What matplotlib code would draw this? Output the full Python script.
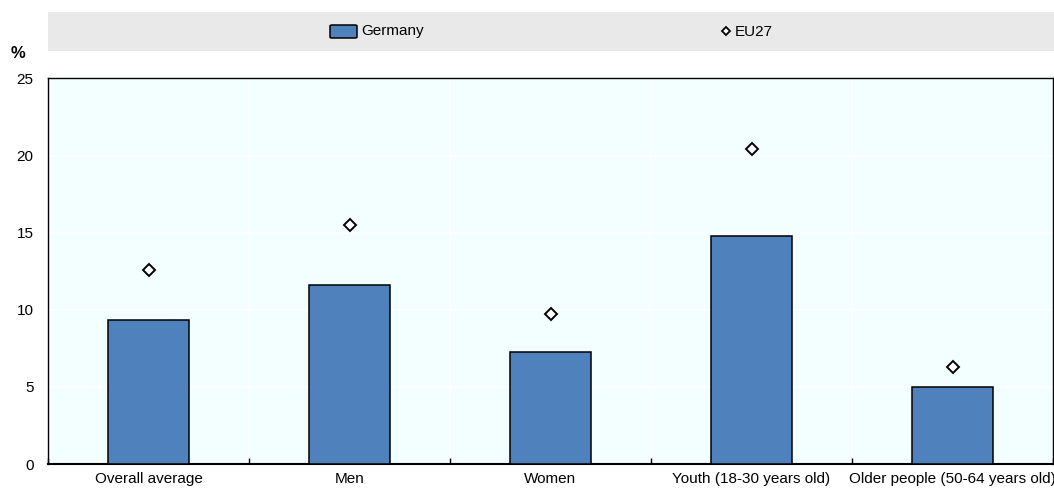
import matplotlib
matplotlib.use("Agg")
import matplotlib.pyplot as plt
from matplotlib.patches import Rectangle, FancyBboxPatch
from matplotlib.lines import Line2D
import numpy as np

categories = ["Overall average", "Men", "Women", "Youth (18-30 years old)", "Older people (50-64 years old)"]
germany = [9.35, 11.6, 7.25, 14.8, 5.0]
eu27 = [12.6, 15.5, 9.75, 20.45, 6.3]
yticks = [0, 5, 10, 15, 20, 25]

plt.rcParams['font.family'] = ['Liberation Sans Narrow', 'Liberation Sans', 'DejaVu Sans']

W, H = 1054, 490
fig = plt.figure(figsize=(W / 100, H / 100), dpi=100)
ax = fig.add_axes([48 / W, 26 / H, (1053 - 48) / W, (464 - 78.5) / H])
ax.set_facecolor('#F2FEFF')

x = np.arange(len(categories))
ax.bar(x, germany, width=0.4, color='#4F81BD', edgecolor='black', linewidth=1.1, zorder=3)
ax.plot(x, eu27, linestyle='none', marker='D', markersize=6, markerfacecolor='white',
        markeredgecolor='black', markeredgewidth=1.4, zorder=4)

ax.set_xlim(-0.5, len(categories) - 0.5)
ax.set_ylim(0, 25)
ax.set_yticks(yticks)
ax.set_yticklabels([str(v) for v in yticks], fontsize=11)
ax.set_xticks(x)
ax.set_xticklabels(categories, fontsize=11)
ax.tick_params(axis='y', length=0, pad=10.5)
ax.tick_params(axis='x', length=0, pad=6)
ax.set_xticks(np.arange(-0.5, len(categories), 1.0), minor=True)
ax.tick_params(axis='x', which='minor', direction='in', length=4, width=1, color='black')
ax.grid(axis='y', color='white', linewidth=1.2, zorder=1)
for b in np.arange(0.5, len(categories) - 0.5, 1.0):
    ax.axvline(b, color='white', linewidth=1.2, zorder=1)
for s in ax.spines.values():
    s.set_color('black')
    s.set_linewidth(1.0)
ax.spines['bottom'].set_linewidth(1.5)

# legend band
fig.patches.append(Rectangle((48 / W, 1 - 51 / H), (W - 48) / W, 39 / H, transform=fig.transFigure,
                             facecolor='#E9E9E9', edgecolor='none', zorder=0))
ly = 1 - 31.5 / H
fig.patches.append(FancyBboxPatch((330 / W, ly - 6.5 / H), 27 / W, 13 / H, transform=fig.transFigure,
                                  boxstyle="round,pad=0,rounding_size=0.002",
                                  facecolor='#4F81BD', edgecolor='black', linewidth=1.1))
fig.text(361 / W, ly, "Germany", fontsize=11, va='center', ha='left')
fig.lines.append(Line2D([726 / W], [ly], transform=fig.transFigure, marker='D', markersize=4.5,
                        markerfacecolor='white', markeredgecolor='black', markeredgewidth=1.3))
fig.text(735 / W, ly, "EU27", fontsize=11, va='center', ha='left')

fig.text(11 / W, 1 - 54 / H, "%", fontsize=12, fontweight='bold', va='center', ha='left')

fig.savefig("out.png", dpi=100)
